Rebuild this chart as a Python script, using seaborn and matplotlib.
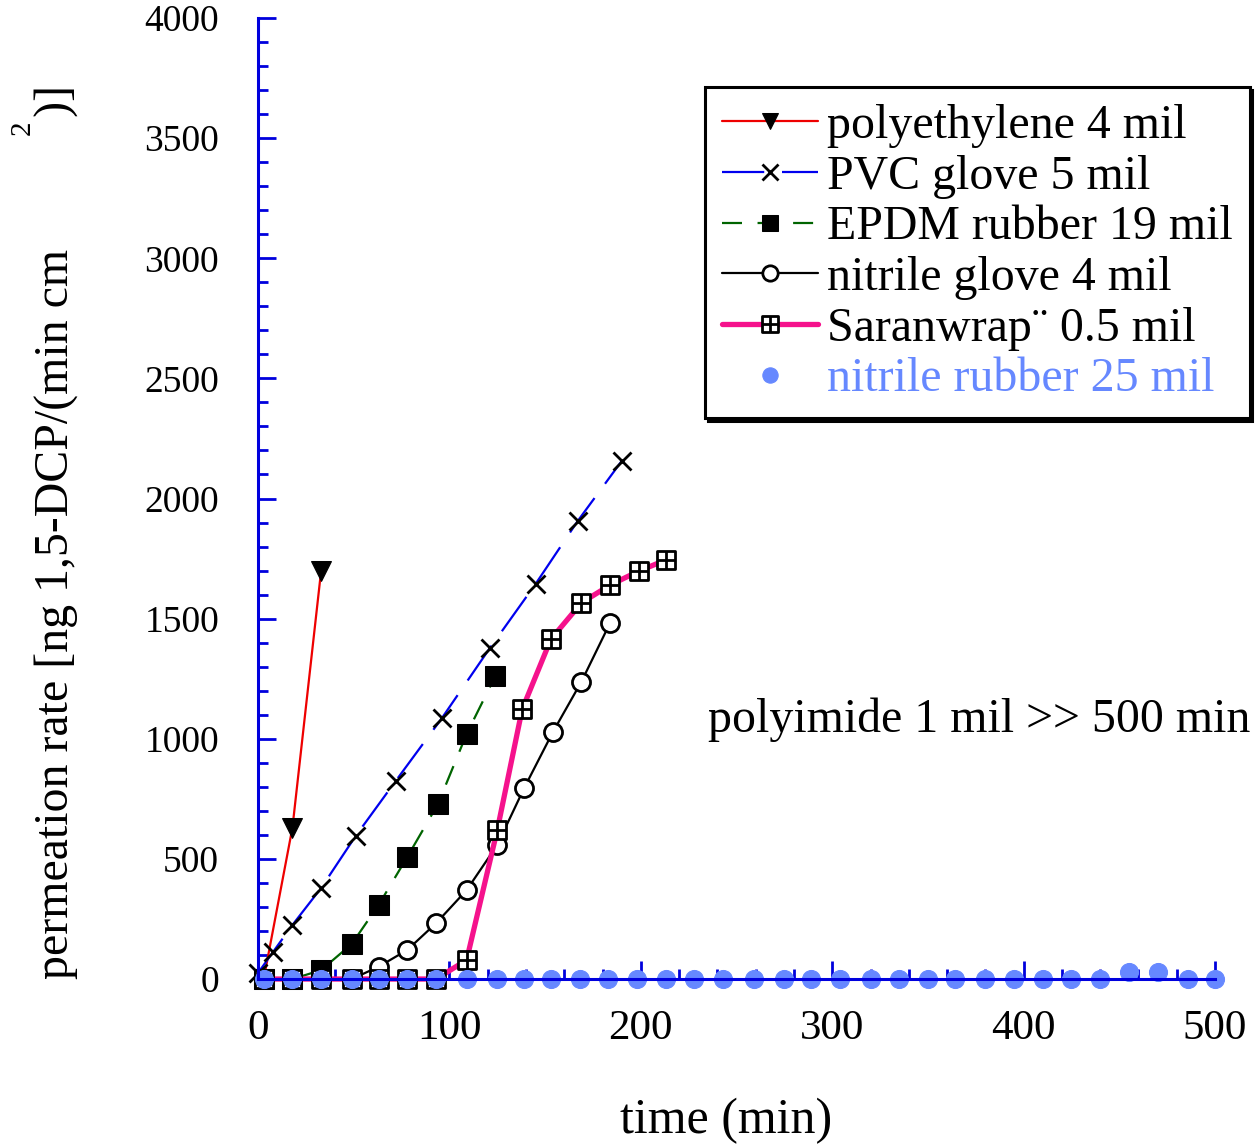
import matplotlib
matplotlib.use("Agg")
import matplotlib.pyplot as plt
from matplotlib.path import Path
from matplotlib.ticker import MultipleLocator
import seaborn as sns

sns.set_style("white")
plt.rcParams["font.family"] = ["Liberation Serif", "DejaVu Serif"]
plt.rcParams["text.color"] = "black"
plt.rcParams["axes.labelcolor"] = "black"

# permeation data (time in min, rate in ng/(min cm2))
PE_T = [3, 18, 33]
PE_RATE = [0, 630, 1700]

PVC_T = [0, 8, 18, 33, 51, 72, 96, 121, 145, 167, 190]
PVC_RATE = [25, 114, 225, 379, 595, 825, 1085, 1376, 1644, 1906, 2156]

EPDM_T = [3, 18, 33, 49, 63, 78, 94, 109, 124]
EPDM_RATE = [0, 0, 37, 146, 308, 508, 728, 1020, 1261]

NG_T = [3, 18, 33, 49, 63, 78, 93, 109, 125, 139, 154, 169, 184]
NG_RATE = [0, 0, 0, 0, 51, 121, 232, 370, 558, 794, 1027, 1238, 1483]

SARAN_T = [3, 18, 33, 49, 63, 78, 93, 109, 125, 138, 153, 169, 184, 199, 213]
SARAN_RATE = [0, 0, 0, 0, 0, 0, 0, 79, 620, 1122, 1414, 1566, 1640, 1698, 1744]

NR_T = [3, 18, 33, 49, 63, 78, 93, 109, 125, 139, 153, 168, 183, 198, 213, 228,
        243, 259, 275, 289, 304, 320, 335, 350, 364, 380, 395, 410, 425, 440,
        455, 470, 486, 500]
NR_RATE = [0] * 30 + [30, 30, 0, 0]

LABELS = ["polyethylene 4 mil", "PVC glove 5 mil", "EPDM rubber 19 mil",
          "nitrile glove 4 mil", "Saranwrap\u00a8 0.5 mil", "nitrile rubber 25 mil"]

AXIS_BLUE = "#0000dd"
DOT_BLUE = "#6688ff"

# square with a cross inside
box_plus = Path(
    [(-1, -1), (1, -1), (1, 1), (-1, 1), (-1, -1), (0, -1), (0, 1), (-1, 0), (1, 0)],
    [Path.MOVETO, Path.LINETO, Path.LINETO, Path.LINETO, Path.CLOSEPOLY,
     Path.MOVETO, Path.LINETO, Path.MOVETO, Path.LINETO],
)

fig = plt.figure(figsize=(12.56, 11.46), dpi=100)
ax = fig.add_axes([0.2054, 0.1457, 0.762, 0.8386])

common = dict(ax=ax, errorbar=None, sort=False, clip_on=False)

sns.lineplot(x=PE_T, y=PE_RATE, color="#ee0000", linewidth=1.6, marker="v",
             markersize=14, markerfacecolor="black", markeredgecolor="black",
             label=LABELS[0], **common)
sns.lineplot(x=PVC_T, y=PVC_RATE, color="#0000ee", linewidth=1.6,
             linestyle=(0, (19, 8)), marker="x", markersize=13,
             markeredgewidth=2, markeredgecolor="black", label=LABELS[1], **common)
sns.lineplot(x=EPDM_T, y=EPDM_RATE, color="#006400", linewidth=1.6,
             linestyle=(0, (9, 7)), marker="s", markersize=14,
             markerfacecolor="black", markeredgecolor="black",
             label=LABELS[2], **common)
sns.lineplot(x=NG_T, y=NG_RATE, color="black", linewidth=1.6, marker="o",
             markersize=13, markerfacecolor="white", markeredgecolor="black",
             markeredgewidth=2, label=LABELS[3], **common)
sns.lineplot(x=SARAN_T, y=SARAN_RATE, color="#f5128c", linewidth=3.8,
             marker=box_plus, markersize=13, markerfacecolor="white",
             markeredgecolor="black", markeredgewidth=2, label=LABELS[4], **common)
sns.lineplot(x=NR_T, y=NR_RATE, color=DOT_BLUE, linewidth=0, marker="o",
             markersize=13, markerfacecolor=DOT_BLUE, markeredgecolor=DOT_BLUE,
             label=LABELS[5], **common)

ax.set_xlim(0, 500)
ax.set_ylim(0, 4000)
ax.xaxis.set_major_locator(MultipleLocator(100))
ax.xaxis.set_minor_locator(MultipleLocator(20))
ax.yaxis.set_major_locator(MultipleLocator(500))
ax.yaxis.set_minor_locator(MultipleLocator(100))

for side in ["top", "right"]:
    ax.spines[side].set_visible(False)
for side in ["left", "bottom"]:
    ax.spines[side].set_color(AXIS_BLUE)
    ax.spines[side].set_linewidth(2.2)

ax.tick_params(which="both", bottom=True, left=True, top=False, right=False)
ax.tick_params(which="major", direction="in", length=13, width=2,
               color=AXIS_BLUE, labelcolor="black")
ax.tick_params(which="minor", direction="in", length=7, width=2, color=AXIS_BLUE)
ax.tick_params(axis="y", which="major", pad=28, labelsize=27)
ax.tick_params(axis="x", which="major", pad=22, labelsize=31)

ax.set_xlabel("time (min)", fontsize=36)
ax.xaxis.set_label_coords(0.489, -0.123)
ax.set_ylabel("permeation rate [ng 1,5-DCP/(min cm" + " " * 11 + ")]",
              fontsize=34.5, ha="left")
ax.yaxis.set_label_coords(-0.187, 0.0)
fig.text(23 / 1256, 1 - 128 / 1146, "2", fontsize=21, rotation=90,
         ha="center", va="center")

ax.text(235, 1078, "polyimide 1 mil >> 500 min", fontsize=34.5,
        ha="left", va="center")

leg = ax.legend(loc="upper left", bbox_to_anchor=(0.467, 0.928), borderaxespad=0,
                fontsize=34.5, frameon=True, fancybox=False,
                shadow={"color": "black", "alpha": 1.0},
                handlelength=2.0, handletextpad=0.2, labelspacing=0.14,
                borderpad=0.35, markerscale=0.85)
leg.get_frame().set_edgecolor("black")
leg.get_frame().set_linewidth(2.2)
leg.get_texts()[5].set_color(DOT_BLUE)

fig.savefig("out.png", dpi=100)
